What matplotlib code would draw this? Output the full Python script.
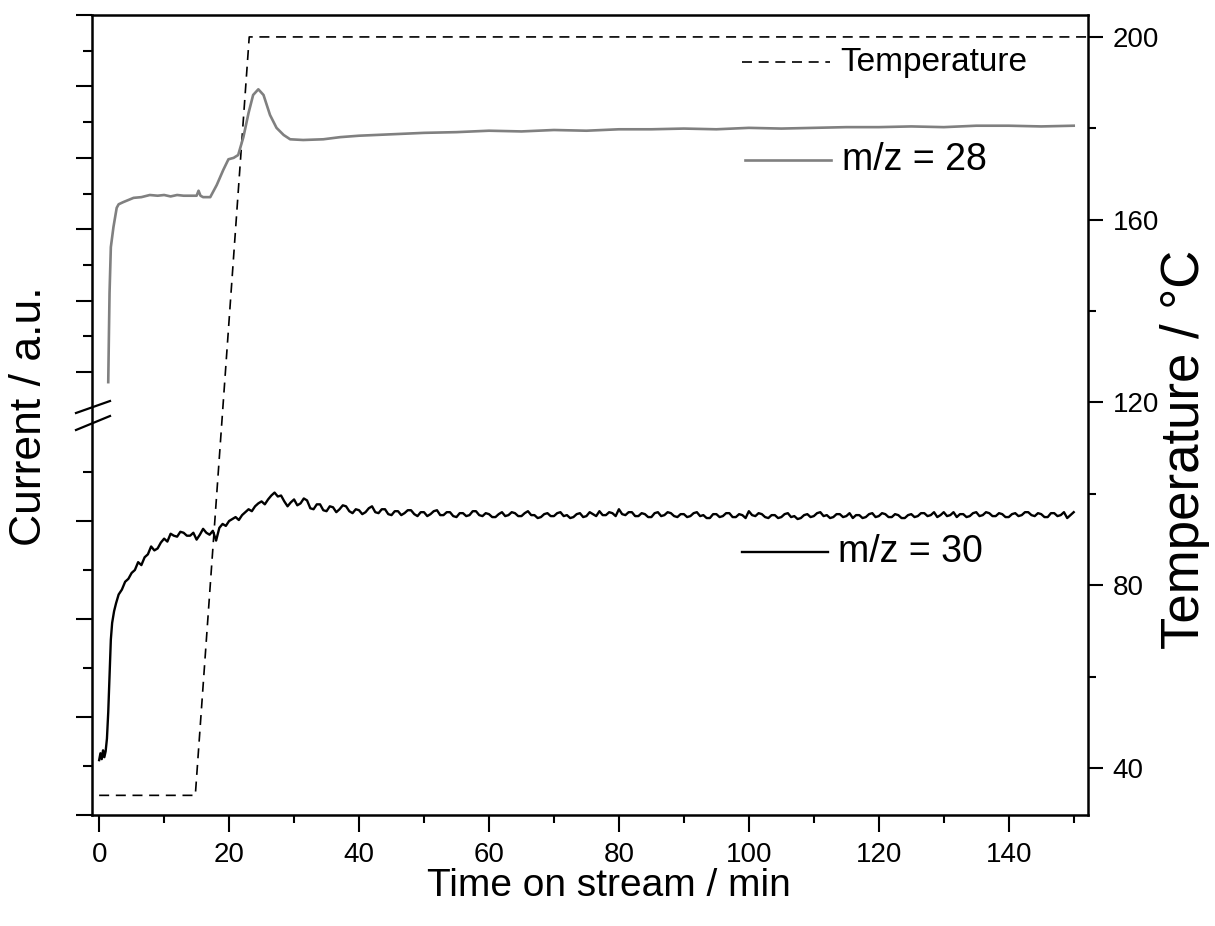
import numpy as np
import matplotlib
matplotlib.use('Agg')
import matplotlib.pyplot as plt
from matplotlib.lines import Line2D
from matplotlib.ticker import FixedLocator, MultipleLocator

plt.rcParams['font.family'] = ['Liberation Sans', 'DejaVu Sans']

# temperature programme (right axis, degC)
t_temp = [0, 14.8, 23.1, 152]
temp = [34, 34, 200, 200]

# m/z = 28 (upper part of the broken current axis, a.u.)
t28 = [1.4, 1.5, 1.6, 1.8, 2.2, 2.7, 3.0, 3.7, 4.5, 5.3, 6.5, 7.8, 9, 10, 11, 12, 13, 14,
       15.0, 15.3, 15.6, 16.0, 17.1, 18.1, 19.1, 19.9, 20.7, 21.4, 22.2, 23.0, 23.7, 24.5,
       25.3, 26.3, 27.3, 28.4, 29.4, 31.4, 34.5, 37.1, 40, 45, 50, 55, 60, 65, 70, 75, 80,
       85, 90, 95, 100, 105, 110, 115, 120, 125, 130, 135, 140, 145, 150]
i28 = [0.86, 1.50, 2.11, 2.75, 3.03, 3.30, 3.35, 3.38, 3.41, 3.44, 3.45, 3.48, 3.47, 3.48,
       3.46, 3.48, 3.47, 3.47, 3.47, 3.54, 3.47, 3.45, 3.45, 3.62, 3.83, 3.98, 4.00, 4.04,
       4.29, 4.63, 4.88, 4.96, 4.88, 4.60, 4.42, 4.32, 4.26, 4.25, 4.26, 4.29, 4.31, 4.33,
       4.35, 4.36, 4.38, 4.37, 4.39, 4.38, 4.40, 4.40, 4.41, 4.40, 4.42, 4.41, 4.42, 4.43,
       4.43, 4.44, 4.43, 4.45, 4.45, 4.44, 4.45]

# m/z = 30 (lower part of the broken current axis, a.u.)
t30 = [0, 0.2, 0.4, 0.6, 0.8, 1.0, 1.2, 1.4, 1.6, 1.8, 2.0, 2.3, 2.6] + list(np.arange(3, 150.5, 0.5))
i30 = [0.56, 0.63, 0.57, 0.66, 0.59, 0.65, 0.78, 1.05, 1.41, 1.79, 1.96, 2.08, 2.16,
       # 3.0 .. 150.0, every 0.5 min
       2.25, 2.30, 2.38, 2.41, 2.47, 2.50, 2.58, 2.55, 2.63, 2.66,
       2.74, 2.70, 2.72, 2.78, 2.82, 2.79, 2.87, 2.85, 2.84, 2.89,
       2.88, 2.85, 2.85, 2.88, 2.81, 2.86, 2.92, 2.88, 2.86, 2.90,
       2.80, 2.93, 2.97, 2.95, 3.00, 3.02, 3.04, 3.01, 3.06, 3.09,
       3.12, 3.10, 3.15, 3.18, 3.20, 3.17, 3.22, 3.26, 3.29, 3.25,
       3.26, 3.20, 3.15, 3.19, 3.22, 3.16, 3.18, 3.23, 3.21, 3.13,
       3.12, 3.17, 3.17, 3.11, 3.10, 3.15, 3.14, 3.09, 3.12, 3.16,
       3.15, 3.10, 3.08, 3.12, 3.11, 3.07, 3.09, 3.13, 3.15, 3.09,
       3.08, 3.12, 3.12, 3.07, 3.06, 3.10, 3.10, 3.06, 3.08, 3.11,
       3.11, 3.07, 3.05, 3.09, 3.09, 3.05, 3.07, 3.10, 3.11, 3.06,
       3.06, 3.09, 3.09, 3.05, 3.04, 3.08, 3.08, 3.05, 3.06, 3.10,
       3.10, 3.06, 3.05, 3.08, 3.07, 3.04, 3.04, 3.07, 3.09, 3.05,
       3.06, 3.09, 3.08, 3.05, 3.05, 3.08, 3.10, 3.06, 3.06, 3.03,
       3.04, 3.07, 3.08, 3.05, 3.05, 3.08, 3.09, 3.05, 3.06, 3.03,
       3.04, 3.07, 3.08, 3.04, 3.05, 3.09, 3.07, 3.05, 3.10, 3.06,
       3.06, 3.09, 3.08, 3.05, 3.12, 3.07, 3.06, 3.09, 3.09, 3.05,
       3.05, 3.08, 3.07, 3.04, 3.04, 3.08, 3.09, 3.05, 3.06, 3.09,
       3.08, 3.05, 3.04, 3.07, 3.07, 3.04, 3.05, 3.08, 3.09, 3.05,
       3.06, 3.03, 3.03, 3.07, 3.07, 3.04, 3.05, 3.08, 3.08, 3.04,
       3.04, 3.07, 3.06, 3.03, 3.10, 3.06, 3.05, 3.08, 3.07, 3.04,
       3.03, 3.06, 3.06, 3.03, 3.04, 3.07, 3.08, 3.04, 3.05, 3.02,
       3.03, 3.06, 3.07, 3.04, 3.05, 3.08, 3.09, 3.05, 3.06, 3.03,
       3.04, 3.07, 3.07, 3.04, 3.05, 3.08, 3.03, 3.06, 3.06, 3.03,
       3.04, 3.07, 3.08, 3.04, 3.05, 3.08, 3.07, 3.04, 3.04, 3.07,
       3.06, 3.03, 3.03, 3.06, 3.07, 3.04, 3.05, 3.08, 3.08, 3.05,
       3.06, 3.09, 3.04, 3.06, 3.09, 3.05, 3.06, 3.09, 3.04, 3.07,
       3.07, 3.04, 3.05, 3.08, 3.09, 3.05, 3.06, 3.09, 3.08, 3.05,
       3.05, 3.08, 3.07, 3.04, 3.04, 3.07, 3.08, 3.05, 3.06, 3.09,
       3.09, 3.06, 3.05, 3.08, 3.07, 3.04, 3.04, 3.08, 3.08, 3.05,
       3.06, 3.09, 3.03, 3.06, 3.09]

W, H = 1215, 926
fig = plt.figure(figsize=(W / 100, H / 100), dpi=100)

def fx(px):
    return px / W

def fy(py):
    return 1 - py / H

L, R, T, B, SPLIT = 92, 1088, 15, 815, 415

# host axes: time + temperature
ax = fig.add_axes([fx(L), fy(B), fx(R - L), (B - T) / H])
ax.plot(t_temp, temp, color='black', lw=1.2, dashes=(6, 4))
ax.set_xlim(-1.1, 152.2)
ax.set_ylim(29.7, 204.8)
ax.xaxis.set_major_locator(MultipleLocator(20))
ax.xaxis.set_minor_locator(MultipleLocator(10))
ax.yaxis.tick_right()
ax.yaxis.set_major_locator(MultipleLocator(40))
ax.yaxis.set_minor_locator(MultipleLocator(20))
ax.tick_params(axis='x', which='major', direction='out', length=12.2, width=1.5,
               labelsize=20, pad=7)
ax.tick_params(axis='x', which='minor', direction='out', length=5.8, width=1.5)
ax.tick_params(axis='y', which='major', direction='out', length=10.8, width=1.5,
               labelsize=20, pad=7, right=True, left=False)
ax.tick_params(axis='y', which='minor', direction='out', length=5.8, width=1.5,
               right=True, left=False)
for s in ax.spines.values():
    s.set_linewidth(1.8)

# upper current axis (m/z = 28)
axt = fig.add_axes([fx(L), fy(SPLIT), fx(R - L), (SPLIT - T) / H])
axt.patch.set_alpha(0)
axt.plot(t28, i28, color='#808080', lw=1.9)
axt.set_xlim(-1.1, 152.2)
axt.set_ylim(0.4, 6)
axt.yaxis.set_major_locator(FixedLocator([1, 2, 3, 4, 5, 6]))
axt.yaxis.set_minor_locator(FixedLocator([1.5, 2.5, 3.5, 4.5, 5.5]))

# lower current axis (m/z = 30)
axb = fig.add_axes([fx(L), fy(B), fx(R - L), (B - SPLIT) / H])
axb.patch.set_alpha(0)
axb.plot(t30, i30, color='black', lw=1.7)
axb.set_xlim(-1.1, 152.2)
axb.set_ylim(0, 400 / 98)
axb.yaxis.set_major_locator(FixedLocator([0, 1, 2, 3]))
axb.yaxis.set_minor_locator(FixedLocator([0.5, 1.5, 2.5, 3.5]))

for a in (axt, axb):
    for s in a.spines.values():
        s.set_visible(False)
    a.set_xticks([])
    a.tick_params(axis='y', which='major', direction='out', length=11.5, width=1.5,
                  labelleft=False)
    a.tick_params(axis='y', which='minor', direction='out', length=6.5, width=1.5)

# axis break marks
fig.add_artist(Line2D([fx(76), fx(110)], [fy(413), fy(401)], color='black', lw=1.6))
fig.add_artist(Line2D([fx(76), fx(110)], [fy(430), fy(416)], color='black', lw=1.6))

# legend-like labels
fig.add_artist(Line2D([fx(742), fx(830)], [fy(62), fy(62)], color='black', lw=1.2,
                      dashes=(6, 4)))
fig.text(fx(840), fy(62), 'Temperature', fontsize=24, va='center', ha='left')
fig.add_artist(Line2D([fx(745), fx(831)], [fy(160), fy(160)], color='#808080', lw=1.9))
fig.text(fx(842), fy(160), 'm/z = 28', fontsize=27, va='center', ha='left')
fig.add_artist(Line2D([fx(742), fx(828)], [fy(552), fy(552)], color='black', lw=1.7))
fig.text(fx(838), fy(552), 'm/z = 30', fontsize=27, va='center', ha='left')

# axis titles
fig.text(fx(609), fy(886), 'Time on stream / min', fontsize=28, ha='center', va='center')
fig.text(fx(30), fy(416), 'Current / a.u.', fontsize=32, rotation=90, ha='center', va='center')
fig.text(fx(1185), fy(449), 'Temperature / °C', fontsize=38, rotation=90, ha='center',
         va='center')

fig.savefig('out.png', dpi=100)
